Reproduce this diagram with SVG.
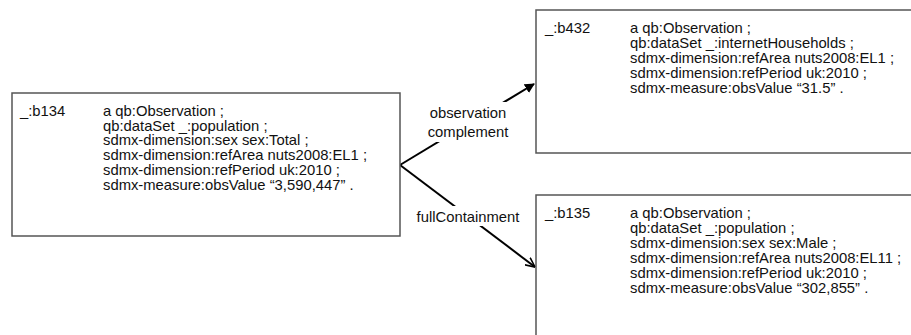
<svg xmlns="http://www.w3.org/2000/svg" width="911" height="335" viewBox="0 0 911 335">
<style>
.box{fill:#fff;stroke:#555;stroke-width:1.5}
text{font-family:"Liberation Sans",Arial,sans-serif;font-size:14.8px;fill:#111}
.lbl{text-anchor:middle}
.conn{stroke:#000;stroke-width:2;fill:none}
</style>
<defs>
<marker id="filled" viewBox="0 0 10 10" refX="9" refY="5" markerWidth="10" markerHeight="10" markerUnits="userSpaceOnUse" orient="auto"><path d="M0,0 L10,5 L0,10 z" fill="#000"/></marker>
<marker id="open" viewBox="0 0 10 10" refX="9.5" refY="5" markerWidth="10" markerHeight="10" markerUnits="userSpaceOnUse" orient="auto"><path d="M0,0.5 L9.5,5 L0,9.5" fill="none" stroke="#000" stroke-width="1.6"/></marker>
</defs>
<g id="connectors">
<path class="conn" d="M400,165 L534,84" marker-end="url(#filled)"/>
<path class="conn" d="M400,165 L535,267" marker-end="url(#open)"/>
<rect x="425" y="102" width="90" height="40" fill="#fff"/>
<rect x="412" y="206" width="112" height="20" fill="#fff"/>
<text class="lbl" x="468" y="118">observation</text>
<text class="lbl" x="468" y="137">complement</text>
<text class="lbl" x="468" y="222">fullContainment</text>
</g>
<g id="b134">
<rect class="box" x="12" y="93" width="388" height="143"/>
<text x="20" y="116">_:b134</text>
<text x="103" y="116">a qb:Observation ;</text>
<text x="103" y="130.7">qb:dataSet _:population ;</text>
<text x="103" y="145.4">sdmx-dimension:sex sex:Total ;</text>
<text x="103" y="160.1">sdmx-dimension:refArea nuts2008:EL1 ;</text>
<text x="103" y="174.8">sdmx-dimension:refPeriod uk:2010 ;</text>
<text x="103" y="189.5">sdmx-measure:obsValue “3,590,447” .</text>
</g>
<g id="b432">
<rect class="box" x="536" y="10" width="390" height="143"/>
<text x="545" y="33">_:b432</text>
<text x="630" y="33">a qb:Observation ;</text>
<text x="630" y="48">qb:dataSet _:internetHouseholds ;</text>
<text x="630" y="63">sdmx-dimension:refArea nuts2008:EL1 ;</text>
<text x="630" y="78">sdmx-dimension:refPeriod uk:2010 ;</text>
<text x="630" y="93">sdmx-measure:obsValue “31.5” .</text>
</g>
<g id="b135">
<rect class="box" x="536" y="195" width="390" height="150"/>
<text x="545" y="218">_:b135</text>
<text x="630" y="218">a qb:Observation ;</text>
<text x="630" y="233">qb:dataSet _:population ;</text>
<text x="630" y="248">sdmx-dimension:sex sex:Male ;</text>
<text x="630" y="263">sdmx-dimension:refArea nuts2008:EL11 ;</text>
<text x="630" y="278">sdmx-dimension:refPeriod uk:2010 ;</text>
<text x="630" y="293">sdmx-measure:obsValue “302,855” .</text>
</g>
</svg>
